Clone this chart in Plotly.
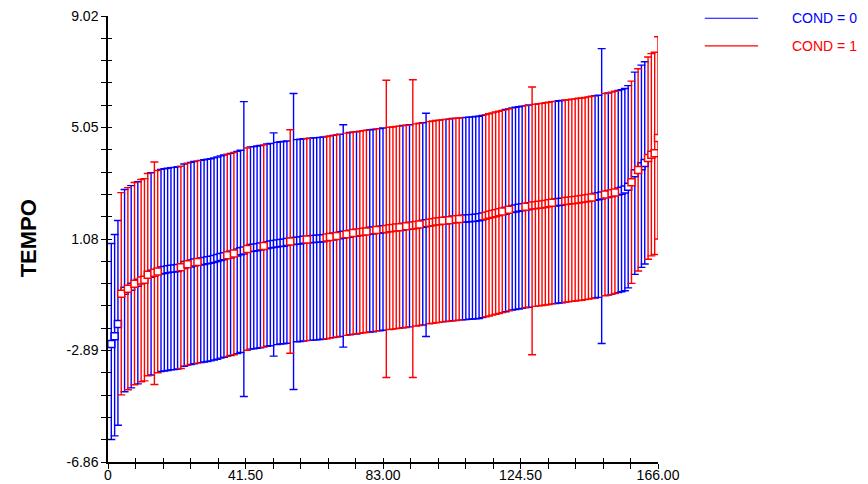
import plotly.graph_objects as go

# ---------------- data ----------------
index = list(range(1, 167))

cond = [
    0, 0, 0, 1, 0, 1, 0, 1, 0, 1,
    1, 1, 0, 1, 1, 0, 0, 0, 0, 0,
    0, 1, 0, 1, 0, 0, 1, 0, 0, 0,
    0, 0, 0, 0, 0, 1, 0, 1, 0, 0,
    0, 1, 0, 0, 0, 0, 1, 0, 0, 0,
    0, 0, 0, 0, 1, 0, 0, 0, 0, 1,
    0, 0, 0, 0, 0, 1, 1, 0, 1, 0,
    0, 1, 0, 1, 0, 1, 1, 1, 0, 0,
    1, 0, 0, 1, 1, 1, 1, 1, 0, 1,
    0, 1, 1, 1, 0, 0, 1, 1, 1, 1,
    1, 0, 1, 0, 1, 1, 0, 0, 0, 0,
    0, 0, 0, 1, 1, 1, 1, 1, 1, 0,
    1, 0, 0, 0, 0, 1, 0, 1, 1, 1,
    1, 1, 1, 1, 0, 0, 0, 1, 1, 1,
    1, 1, 1, 1, 1, 1, 0, 0, 0, 1,
    0, 1, 1, 0, 0, 0, 0, 1, 0, 1,
    0, 0, 1, 1, 1, 1,
]

tempo = [
    -2.66, -2.38, -1.95, -0.87, -0.76, -0.69, -0.62, -0.51, -0.48, -0.40,
    -0.37, -0.19, -0.16, -0.12, -0.08, -0.04, -0.02, 0.00, 0.02, 0.03,
    0.05, 0.07, 0.15, 0.18, 0.21, 0.24, 0.26, 0.28, 0.30, 0.32,
    0.34, 0.37, 0.40, 0.44, 0.47, 0.50, 0.53, 0.56, 0.60, 0.64,
    0.67, 0.72, 0.76, 0.77, 0.79, 0.81, 0.83, 0.86, 0.88, 0.90,
    0.92, 0.94, 0.95, 0.97, 0.99, 1.01, 1.02, 1.03, 1.05, 1.06,
    1.07, 1.08, 1.09, 1.10, 1.11, 1.13, 1.15, 1.17, 1.19, 1.21,
    1.23, 1.25, 1.27, 1.29, 1.30, 1.32, 1.34, 1.35, 1.37, 1.38,
    1.40, 1.41, 1.43, 1.44, 1.46, 1.47, 1.49, 1.50, 1.52, 1.53,
    1.55, 1.56, 1.58, 1.60, 1.62, 1.64, 1.66, 1.68, 1.70, 1.71,
    1.73, 1.74, 1.75, 1.77, 1.78, 1.79, 1.80, 1.81, 1.82, 1.83,
    1.84, 1.85, 1.88, 1.91, 1.94, 1.97, 2.00, 2.03, 2.06, 2.09,
    2.12, 2.15, 2.17, 2.19, 2.21, 2.23, 2.25, 2.27, 2.28, 2.30,
    2.31, 2.33, 2.35, 2.37, 2.38, 2.40, 2.41, 2.43, 2.44, 2.46,
    2.47, 2.49, 2.50, 2.52, 2.54, 2.56, 2.58, 2.60, 2.63, 2.66,
    2.68, 2.71, 2.74, 2.77, 2.80, 2.84, 2.94, 3.10, 3.42, 3.54,
    3.67, 3.79, 3.96, 4.08, 4.13, 4.68,
]

# typical interval half-width (the bands run parallel to the means)
typical_half_width = 3.6
# points whose intervals differ from the typical one: index -> (plus, minus)
wider_intervals = {
    1: (3.58, 3.40), 2: (3.62, 3.55), 3: (3.69, 3.60),
    14: (3.94, 3.98), 41: (5.30, 5.20), 50: (3.96, 3.99),
    55: (3.98, 3.98), 56: (5.25, 5.29), 71: (3.92, 4.00),
    84: (5.29, 5.29), 92: (5.19, 5.41), 96: (3.92, 4.03),
    128: (4.22, 5.31), 149: (5.23, 5.27),
}

x_tickvals = [0, 41.5, 83, 124.5, 166]
x_ticktext = ["0", "41.50", "83.00", "124.50", "166.00"]
y_tickvals = [-6.86, -2.89, 1.08, 5.05, 9.02]
y_ticktext = ["-6.86", "-2.89", "1.08", "5.05", "9.02"]

groups = [(0, "COND = 0", "#0000FF"), (1, "COND = 1", "#FF0000")]

# ---------------- figure ----------------
FONT = "Liberation Sans, Arial, sans-serif"
fig = go.Figure()

for code, name, color in groups:
    xs, ys, ep, em = [], [], [], []
    for i, c, v in zip(index, cond, tempo):
        if c != code:
            continue
        p, m = wider_intervals.get(i, (typical_half_width, typical_half_width))
        xs.append(i)
        ys.append(v)
        ep.append(p)
        em.append(m)
    fig.add_trace(go.Scatter(
        x=xs, y=ys, mode="markers", name=name, showlegend=False,
        marker=dict(symbol="square", size=7, color="white",
                    line=dict(color=color, width=1.5)),
        error_y=dict(type="data", symmetric=False, array=ep, arrayminus=em,
                     color=color, thickness=1.4, width=4),
    ))

# invisible trace for the inner tick marks (ticks cross the axis lines)
fig.add_trace(go.Scatter(x=[None], y=[None], xaxis="x2", yaxis="y2",
                         showlegend=False, hoverinfo="skip"))

axis_common = dict(showgrid=False, zeroline=False, showline=True,
                   automargin=False, ticklabeloverflow="allow",
                   linecolor="black", linewidth=1.5, ticks="outside",
                   ticklen=5, tickwidth=1.3, tickcolor="black",
                   tickfont=dict(family=FONT, size=14, color="black"))

# the page body adds an 8px offset, so the figure is 860x476
fig.update_layout(
    width=860, height=476,
    margin=dict(l=100, r=210, t=8, b=22, autoexpand=False),
    paper_bgcolor="white", plot_bgcolor="white",
    xaxis=dict(range=[0, 166], tickmode="array", tickvals=x_tickvals,
               ticktext=x_ticktext, ticklabelstandoff=-6,
               minor=dict(tickmode="linear", tick0=0, dtick=8.3, ticks="outside",
                          ticklen=5, tickwidth=1.3, tickcolor="black"),
               **axis_common),
    yaxis=dict(range=[-6.86, 9.02], tickmode="array", tickvals=y_tickvals,
               ticktext=y_ticktext,
               minor=dict(tickmode="linear", tick0=-6.86, dtick=0.794,
                          ticks="outside", ticklen=5, tickwidth=1.3,
                          tickcolor="black"),
               **axis_common),
    xaxis2=dict(range=[0, 166], overlaying="x", anchor="y2", side="bottom",
                automargin=False,
                showgrid=False, zeroline=False, showline=False,
                showticklabels=False, tickmode="linear", tick0=0, dtick=8.3,
                ticks="inside", ticklen=4, tickwidth=1.3, tickcolor="black"),
    yaxis2=dict(range=[-6.86, 9.02], overlaying="y", anchor="x2", side="left",
                automargin=False,
                showgrid=False, zeroline=False, showline=False,
                showticklabels=False, tickmode="linear", tick0=-6.86,
                dtick=0.794, ticks="inside", ticklen=4, tickwidth=1.3,
                tickcolor="black"),
)

# y-axis title
fig.add_annotation(text="<b>TEMPO</b>", xref="paper", yref="paper",
                   x=-0.145, y=0.502, textangle=-90, showarrow=False,
                   xanchor="center", yanchor="middle",
                   font=dict(family=FONT, size=22, color="black"))

# legend (line sample + coloured label)
legend_rows = [(0.995, "#0000FF", "COND = 0"), (0.933, "#FF0000", "COND = 1")]
for yy, color, label in legend_rows:
    fig.add_shape(type="line", xref="paper", yref="paper",
                  x0=1.085, x1=1.182, y0=yy, y1=yy,
                  line=dict(color=color, width=1.2))
    fig.add_annotation(text=label, xref="paper", yref="paper",
                       x=1.24, y=yy, xanchor="left", yanchor="middle",
                       showarrow=False,
                       font=dict(family=FONT, size=14, color=color))

fig.write_html("out.html")
